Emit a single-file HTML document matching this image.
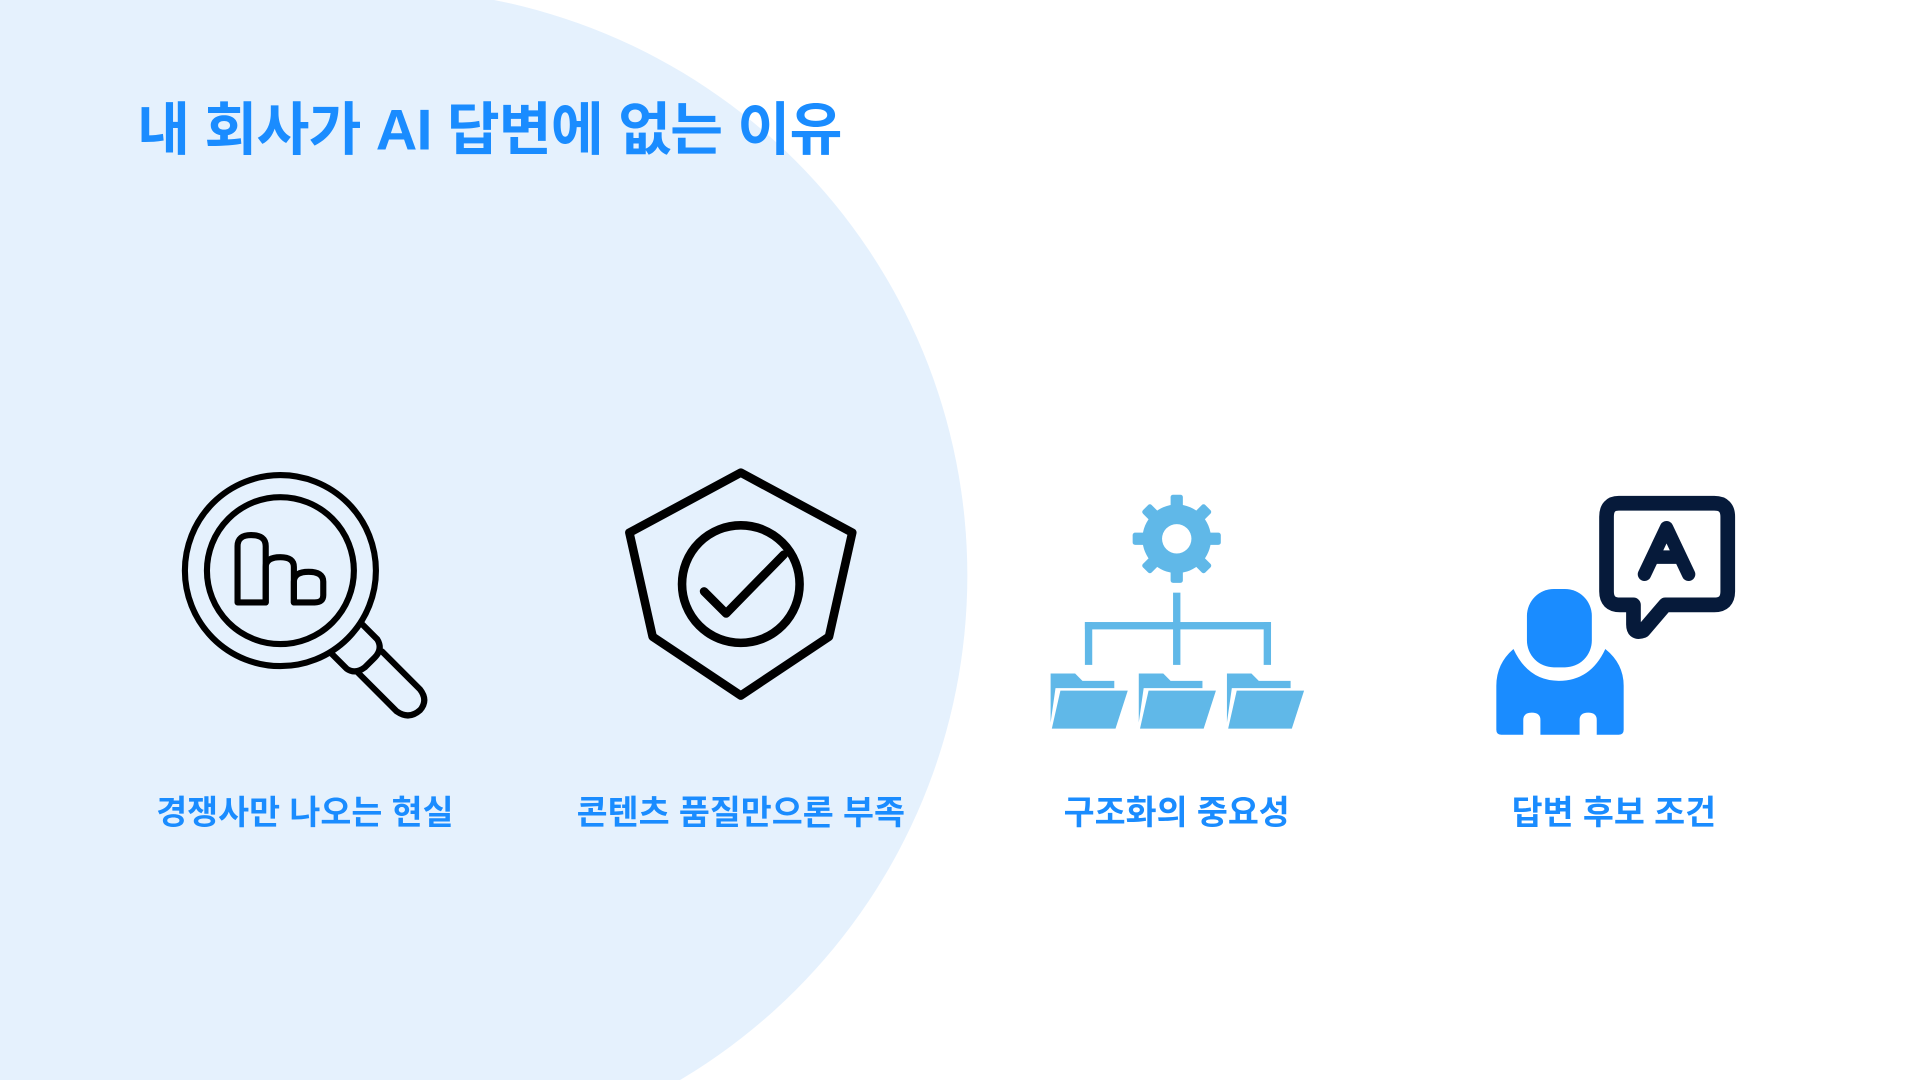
<!DOCTYPE html>
<html><head><meta charset="utf-8"><style>
html,body{margin:0;padding:0;width:1920px;height:1080px;overflow:hidden;background:#fff}
svg{display:block;position:absolute;left:0;top:0}
text{font-family:"Liberation Sans","Noto Sans CJK KR",sans-serif;font-weight:700;fill:#1A8CFF}
</style></head><body>
<svg width="1920" height="1080" viewBox="0 0 1568 882" xmlns="http://www.w3.org/2000/svg">
<rect width="1568" height="882" fill="#fff"/>
<circle cx="311" cy="470" r="479" fill="#E5F1FD"/>
<rect x="0" y="0" width="311" height="882" fill="#E5F1FD"/>
<text x="112" y="122" font-size="47" letter-spacing="-0.7">내 회사가 AI 답변에 없는 이유</text>

<!-- magnifier -->
<g fill="none" stroke="#000" stroke-width="5" stroke-linejoin="round" stroke-linecap="round">
<circle cx="229" cy="466" r="78"/>
<circle cx="229" cy="466" r="60"/>
<path d="M295 509 L308 522 Q313 530 306 537 L298 545 Q290 551 283 546 L270 533"/>
<path d="M312 532 L343 563 Q350 572 343 580 Q334 588 324 581 L292 549"/>
<path d="M194 492 V446 Q194 437 205 437 Q217 437 217 446 V492 Z"/>
<path d="M217 492 V463 Q217 455 229 455 Q240 455 240 463 V492"/>
<path d="M240 492 V475 Q240 467 252 467 Q264 467 264 475 V486 Q264 492 257 492 Z"/>
</g>

<!-- shield -->
<g fill="none" stroke="#000" stroke-width="7" stroke-linejoin="round" stroke-linecap="round">
<path d="M605 386 L696 435 L677 520 L605 568 L533 520 L514 435 Z"/>
<circle cx="605" cy="477" r="48"/>
<path d="M575 483 L593 501 L640 453"/>
</g>

<!-- gear + folders -->
<g fill="#60B8E8">
<g transform="translate(961 440)">
<rect x="-5" y="-36" width="10" height="72" rx="2"/>
<rect x="-5" y="-36" width="10" height="72" rx="2" transform="rotate(45)"/>
<rect x="-5" y="-36" width="10" height="72" rx="2" transform="rotate(90)"/>
<rect x="-5" y="-36" width="10" height="72" rx="2" transform="rotate(135)"/>
<circle r="28"/>
<circle r="12" fill="#fff"/>
</g>
<rect x="958" y="484" width="6" height="59"/>
<rect x="886" y="508" width="152" height="6"/>
<rect x="886" y="508" width="6" height="35"/>
<rect x="1032" y="508" width="6" height="35"/>
<g id="f">
<path d="M858 550 H878 L884 556 H910 V562 H862 L858 590 Z"/>
<path d="M866 564 H921 L911 595 H859 Z"/>
</g>
<use href="#f" x="72"/>
<use href="#f" x="144"/>
</g>

<!-- person -->
<g fill="#1A8CFF">
<rect x="1247" y="481" width="53" height="64" rx="22"/>
<path d="M1236 530 Q1248 556 1273 556 Q1299 556 1311 530 Q1326 542 1326 560 V596 Q1326 600 1322 600 H1304 V588 Q1304 582 1297 582 Q1290 582 1290 588 V600 H1258 V588 Q1258 582 1251 582 Q1244 582 1244 588 V600 H1226 Q1222 600 1222 596 V560 Q1222 542 1236 530 Z"/>
</g>

<!-- speech bubble -->
<g fill="none" stroke="#061A3A" stroke-width="12" stroke-linejoin="round" stroke-linecap="round">
<path d="M1322 411 H1400 Q1411 411 1411 422 V483 Q1411 494 1400 494 H1360 L1342 515 Q1334 518 1334 510 V494 H1323 Q1312 494 1312 483 V422 Q1312 411 1322 411 Z"/>
<path d="M1343 469 L1361 431 L1379 469 M1350 455 H1372" stroke-width="11"/>
</g>

<g font-size="27.5" text-anchor="middle">
<text x="249" y="673">경쟁사만 나오는 현실</text>
<text x="605" y="673">콘텐츠 품질만으론 부족</text>
<text x="961" y="673">구조화의 중요성</text>
<text x="1318" y="673">답변 후보 조건</text>
</g>
</svg>
</body></html>
